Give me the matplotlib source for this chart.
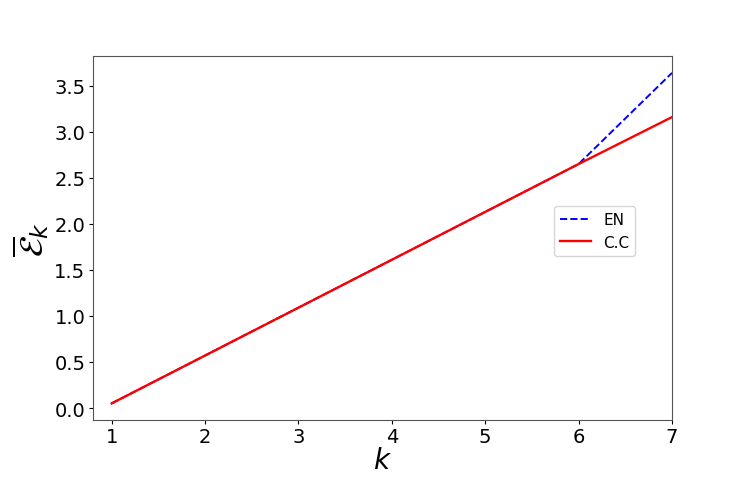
import numpy as np
import matplotlib.pyplot as plt

k = [1, 2, 3, 4, 5, 6, 7]
en = [0.05, 0.57, 1.09, 1.61, 2.13, 2.65, 3.64]  # EN
cc = [0.05, 0.57, 1.09, 1.61, 2.13, 2.65, 3.16]  # C.C

fig = plt.figure(figsize=(7.47, 4.81), dpi=100)
ax = fig.add_axes([93 / 747, 1 - 420.7 / 481, 579 / 747, 363.4 / 481])

ax.plot(k, en, 'b--', lw=1.4, label='EN')
ax.plot(k, cc, 'r-', lw=1.7, label='C.C')
ax.set_xlim(0.8, 7)
ax.set_ylim(-0.127, 3.82)
ax.set_xlabel(r'$k$', fontsize=20, labelpad=0)
ax.set_ylabel(r'$\overline{\mathcal{E}}_k$', fontsize=24, labelpad=2)
ax.tick_params(labelsize=14, length=3, pad=2.5)
for s in ax.spines.values():
    s.set_color('#555555')
ax.legend(loc='center right', bbox_to_anchor=(0.95, 0.52), fontsize=11)

plt.savefig('out.png', dpi=100)
